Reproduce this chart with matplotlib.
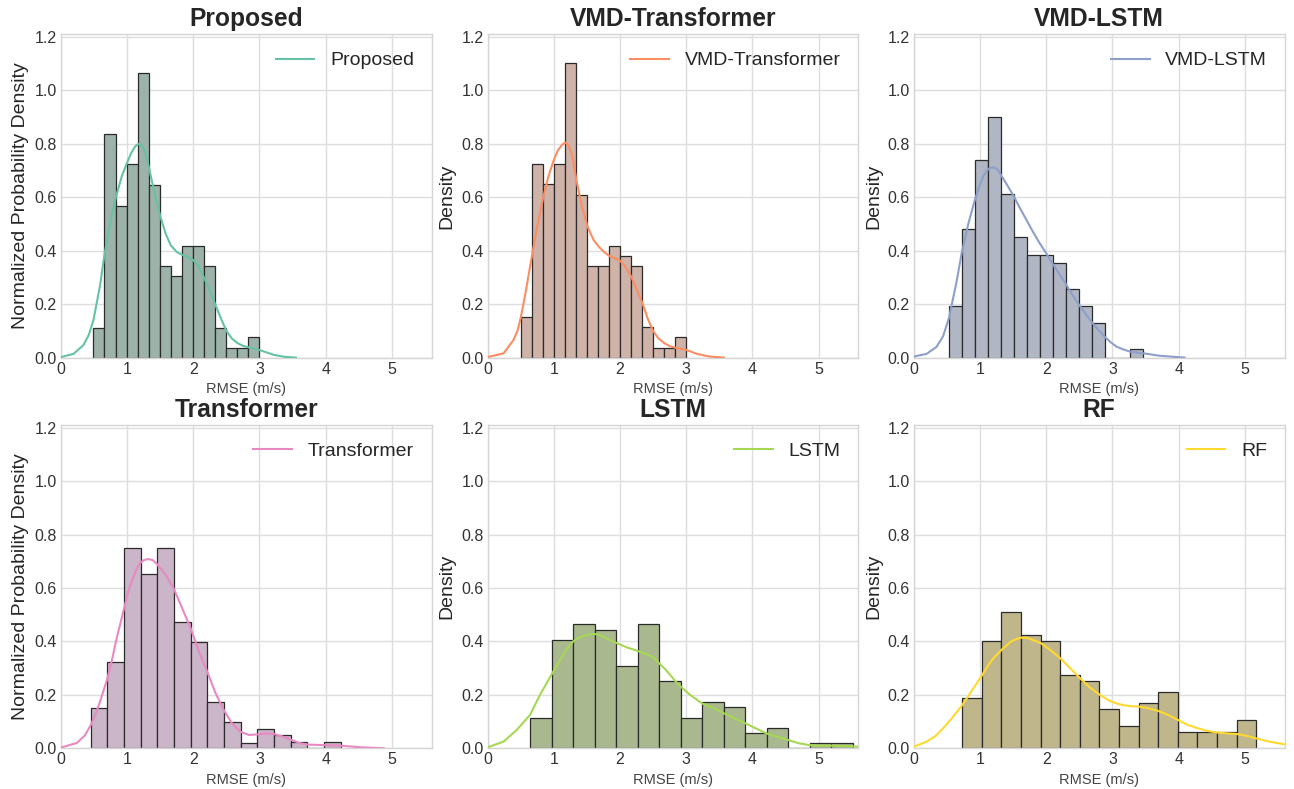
import numpy as np
import matplotlib
matplotlib.use("Agg")
import matplotlib.pyplot as plt

# ---------------- data ----------------
titles = ["Proposed", "VMD-Transformer", "VMD-LSTM", "Transformer", "LSTM", "RF"]
ylabels = ["Normalized Probability Density", "Density", "Density",
           "Normalized Probability Density", "Density", "Density"]

# histogram range (min, max) of each model's RMSE; 15 bins each
hist_range = {
    "Proposed": (0.49, 2.995),
    "VMD-Transformer": (0.505, 3.0),
    "VMD-LSTM": (0.528, 3.468),
    "Transformer": (0.449, 4.229),
    "LSTM": (0.641, 5.515),
    "RF": (0.729, 5.171),
}

hist_density = {
    "Proposed": [0.112, 0.836, 0.569, 0.724, 1.064, 0.646, 0.343, 0.304,
                 0.418, 0.418, 0.342, 0.112, 0.037, 0.037, 0.076],
    "VMD-Transformer": [0.153, 0.723, 0.649, 0.723, 1.104, 0.609, 0.343, 0.343,
                        0.418, 0.380, 0.343, 0.114, 0.037, 0.037, 0.076],
    "VMD-LSTM": [0.193, 0.483, 0.740, 0.901, 0.612, 0.450, 0.385, 0.385,
                 0.354, 0.258, 0.193, 0.128, 0.0, 0.0, 0.032],
    "Transformer": [0.150, 0.324, 0.751, 0.651, 0.751, 0.474, 0.399, 0.175,
                    0.097, 0.021, 0.074, 0.049, 0.022, 0.0, 0.022],
    "LSTM": [0.115, 0.405, 0.464, 0.444, 0.309, 0.464, 0.251, 0.115,
             0.173, 0.153, 0.056, 0.076, 0.0, 0.019, 0.019],
    "RF": [0.188, 0.403, 0.509, 0.424, 0.403, 0.274, 0.253, 0.147,
           0.084, 0.168, 0.211, 0.062, 0.062, 0.062, 0.105],
}

# KDE curves (x, density)
kde_x = {
    "Proposed": [0.0, 0.19, 0.34, 0.42, 0.49, 0.59, 0.66, 0.75, 0.83, 0.92, 1.0,
                 1.06, 1.12, 1.17, 1.22, 1.28, 1.33, 1.41, 1.5, 1.58, 1.66, 1.75,
                 1.83, 1.92, 2.0, 2.08, 2.16, 2.25, 2.33, 2.42, 2.5, 2.58, 2.67,
                 2.75, 2.83, 2.99, 3.1, 3.22, 3.38, 3.55],
    "VMD-Transformer": [0.0, 0.24, 0.39, 0.45, 0.5, 0.57, 0.64, 0.74, 0.84, 0.92,
                        1.0, 1.06, 1.12, 1.17, 1.22, 1.28, 1.34, 1.42, 1.51,
                        1.6, 1.68, 1.76, 1.84, 1.92, 2.0, 2.08, 2.17, 2.25, 2.34,
                        2.42, 2.5, 2.58, 2.67, 2.75, 2.84, 3.0, 3.16, 3.35, 3.57],
    "VMD-LSTM": [0.0, 0.19, 0.34, 0.44, 0.53, 0.64, 0.72, 0.82, 0.92, 1.0, 1.05,
                 1.1, 1.15, 1.2, 1.26, 1.31, 1.41, 1.51, 1.6, 1.70, 1.8, 1.9,
                 2.0, 2.09, 2.19, 2.29, 2.38, 2.48, 2.58, 2.68, 2.78, 2.88, 2.97,
                 3.06, 3.17, 3.27, 3.47, 3.71, 4.09],
    "Transformer": [0.0, 0.24, 0.36, 0.45, 0.52, 0.59, 0.70, 0.77, 0.84, 0.95,
                    1.02, 1.09, 1.15, 1.2, 1.26, 1.32, 1.38, 1.45, 1.58, 1.7,
                    1.83, 1.96, 2.08, 2.21, 2.33, 2.46, 2.58, 2.71, 2.84, 2.97,
                    3.11, 3.22, 3.34, 3.47, 3.6, 3.72, 3.97, 4.22, 4.52, 4.88],
    "LSTM": [0.0, 0.24, 0.44, 0.64, 0.79, 0.96, 1.07, 1.15, 1.22, 1.29, 1.37,
             1.45, 1.53, 1.61, 1.7, 1.8, 1.94, 2.1, 2.27, 2.43, 2.52, 2.59, 2.68,
             2.76, 2.84, 2.92, 3.06, 3.24, 3.42, 3.57, 3.73, 3.89, 4.05, 4.21,
             4.37, 4.54, 4.7, 4.86, 5.0, 5.18, 5.4, 5.61],
    "RF": [0.0, 0.19, 0.32, 0.44, 0.58, 0.73, 0.9, 1.03, 1.12, 1.2, 1.32, 1.4,
           1.47, 1.55, 1.62, 1.69, 1.75, 1.83, 1.92, 2.06, 2.21, 2.36, 2.51,
           2.66, 2.81, 2.96, 3.1, 3.25, 3.4, 3.54, 3.69, 3.84, 3.99, 4.14, 4.29,
           4.43, 4.58, 4.73, 4.87, 5.02, 5.17, 5.37, 5.6],
}
kde_y = {
    "Proposed": [0.002, 0.014, 0.047, 0.085, 0.14, 0.27, 0.39, 0.51, 0.60, 0.68,
                 0.73, 0.765, 0.79, 0.80, 0.795, 0.765, 0.71, 0.62, 0.53, 0.465,
                 0.42, 0.395, 0.385, 0.375, 0.365, 0.34, 0.30, 0.25, 0.20, 0.145,
                 0.10, 0.072, 0.054, 0.044, 0.039, 0.029, 0.02, 0.01, 0.003, 0.0],
    "VMD-Transformer": [0.002, 0.016, 0.066, 0.1, 0.15, 0.24, 0.34, 0.48, 0.60,
                        0.68, 0.74, 0.775, 0.795, 0.805, 0.795, 0.755, 0.665,
                        0.57, 0.49, 0.44, 0.415, 0.395, 0.38, 0.372, 0.363,
                        0.34, 0.303, 0.255, 0.203, 0.145, 0.10, 0.072, 0.054,
                        0.043, 0.037, 0.029, 0.014, 0.004, 0.0],
    "VMD-LSTM": [0.004, 0.014, 0.04, 0.08, 0.15, 0.28, 0.39, 0.50, 0.59, 0.65,
                 0.68, 0.70, 0.71, 0.712, 0.705, 0.685, 0.645, 0.603, 0.56,
                 0.515, 0.47, 0.428, 0.39, 0.353, 0.315, 0.278, 0.24, 0.203,
                 0.168, 0.135, 0.105, 0.079, 0.058, 0.041, 0.03, 0.022, 0.016,
                 0.007, 0.0],
    "Transformer": [0.003, 0.02, 0.048, 0.087, 0.125, 0.175, 0.26, 0.33, 0.41,
                    0.52, 0.59, 0.64, 0.675, 0.695, 0.705, 0.708, 0.705, 0.69,
                    0.65, 0.60, 0.525, 0.449, 0.365, 0.287, 0.21, 0.143, 0.095,
                    0.062, 0.05, 0.052, 0.056, 0.053, 0.045, 0.033, 0.02, 0.014,
                    0.012, 0.01, 0.004, 0.0],
    "LSTM": [0.004, 0.025, 0.069, 0.125, 0.20, 0.274, 0.32, 0.355, 0.38, 0.40,
             0.413, 0.42, 0.426, 0.428, 0.424, 0.41, 0.395, 0.378, 0.364,
             0.349, 0.337, 0.318, 0.297, 0.274, 0.25, 0.23, 0.20, 0.168, 0.15,
             0.131, 0.112, 0.094, 0.075, 0.056, 0.044, 0.031, 0.019, 0.012,
             0.01, 0.01, 0.008, 0.006],
    "RF": [0.006, 0.025, 0.045, 0.075, 0.115, 0.162, 0.225, 0.274, 0.31, 0.337,
           0.368, 0.385, 0.40, 0.409, 0.414, 0.414, 0.41, 0.402, 0.393, 0.368,
           0.337, 0.30, 0.262, 0.227, 0.20, 0.177, 0.165, 0.158, 0.156, 0.15,
           0.14, 0.125, 0.106, 0.087, 0.075, 0.065, 0.059, 0.056, 0.054, 0.047,
           0.037, 0.025, 0.015],
}

bar_colors = ["#9db3a9", "#cfb3a8", "#b0b6c3", "#cbb5c8", "#a9b88f", "#bfb68b"]
line_colors = ["#66c2a5", "#fc8d62", "#8da0cb", "#e78ac3", "#a6d854", "#ffd92f"]

x_ticks = [0, 1, 2, 3, 4, 5]
y_ticks = [0.0, 0.2, 0.4, 0.6, 0.8, 1.0, 1.2]

# ---------------- style ----------------
plt.rcParams["font.family"] = ["Liberation Sans", "DejaVu Sans"]
plt.rcParams["text.color"] = "#262626"
plt.rcParams["axes.labelcolor"] = "#262626"
plt.rcParams["xtick.color"] = "#333333"
plt.rcParams["ytick.color"] = "#333333"

W, H = 1294, 789
fig = plt.figure(figsize=(W / 100, H / 100), dpi=100)

lefts = [61, 487.7, 914]
ax_w = 370.5
row_bottoms = [357.6, 748.3]
ax_h = 1.21 * 267.2

for i, name in enumerate(titles):
    r, c = divmod(i, 3)
    l = lefts[c]
    b = row_bottoms[r]
    ax = fig.add_axes([l / W, 1 - b / H, ax_w / W, ax_h / H])
    ax.set_facecolor("white")
    ax.set_axisbelow(True)
    ax.grid(True, color="#dedede", linewidth=1.0)
    for s in ax.spines.values():
        s.set_color("#d5d5d5")
        s.set_linewidth(1.0)
    ax.tick_params(length=0, labelsize=11.5, pad=3)

    lo, hi = hist_range[name]
    edges = np.linspace(lo, hi, len(hist_density[name]) + 1)
    ax.bar(edges[:-1], hist_density[name], width=np.diff(edges), align="edge",
           color=bar_colors[i], edgecolor="#2b2b2b", linewidth=0.9, zorder=2)
    ax.plot(kde_x[name], kde_y[name], color=line_colors[i], lw=1.5, zorder=3,
            label=name, solid_joinstyle="round")

    ax.set_xlim(0, 5.6)
    ax.set_ylim(0, 1.21)
    ax.set_xticks(x_ticks)
    ax.set_yticks(y_ticks)
    ax.set_xticklabels([str(t) for t in x_ticks])
    ax.set_yticklabels([f"{t:.1f}" for t in y_ticks])
    ax.set_title(name, fontsize=17.7, fontweight="bold", pad=6)
    ax.set_xlabel("RMSE (m/s)", fontsize=10.5, color="#444444", labelpad=4)
    ax.set_ylabel(ylabels[i], fontsize=14)
    ax.legend(loc="upper right", frameon=False, fontsize=14)

fig.savefig("out.png", dpi=100)
